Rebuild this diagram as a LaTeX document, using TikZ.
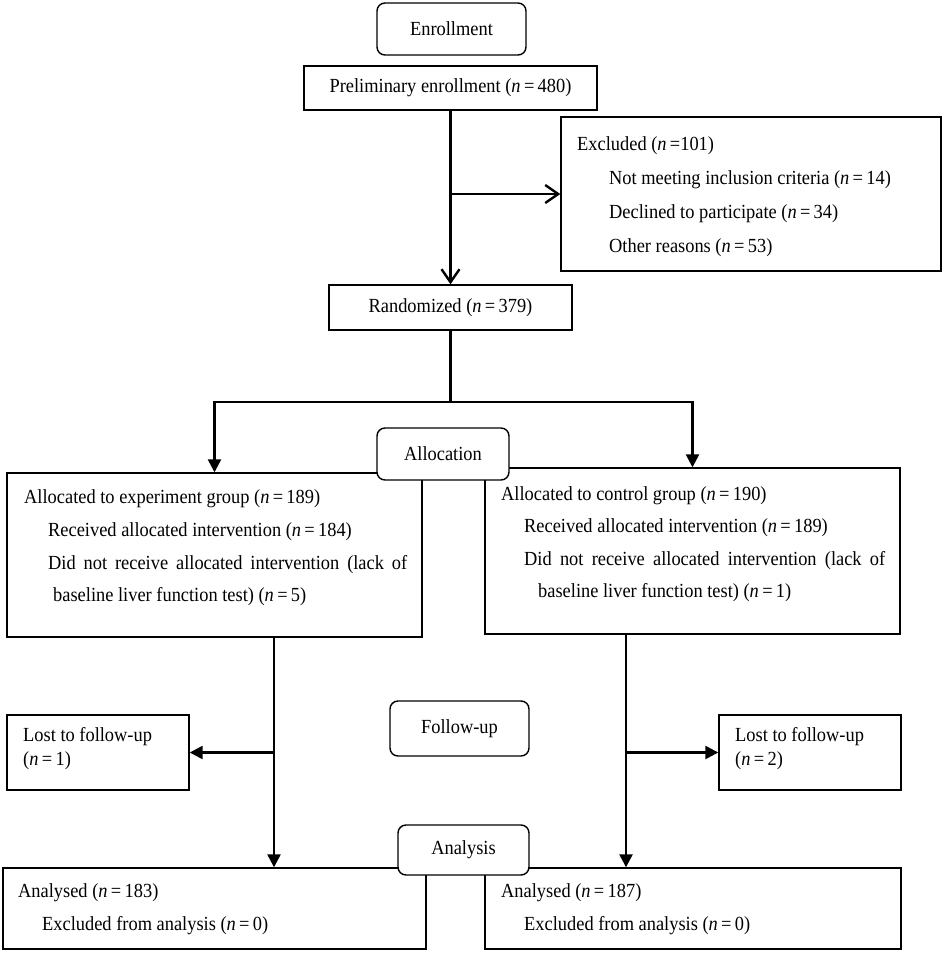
\documentclass[tikz,border=0pt]{standalone}
\usepackage{fontspec}
\setmainfont{Liberation Serif}[FakeStretch=0.92]
\usetikzlibrary{arrows.meta}
\newcommand{\nv}{\textit{n}}
\newcommand{\eq}{\,=\,}
\begin{document}
\begin{tikzpicture}[x=1pt,y=-1pt,
  bx/.style={draw=black, line width=1.4pt, inner sep=0pt, fill=white, font=\fontsize{20}{24}\selectfont},
  lbl/.style={bx, rounded corners=8pt},
  txt/.style={inner sep=0pt, anchor=base west, font=\fontsize{20}{24}\selectfont},
  conn/.style={line width=2.4pt},
  tip/.style={-{Triangle[width=13pt,length=13pt]}},
  vtip/.style={-{Straight Barb[width=18pt,length=13pt]}}]
\useasboundingbox (0,0) rectangle (944,953);
\fill[white] (0,0) rectangle (944,953);

% boxes
\node[lbl, minimum width=149pt, minimum height=52pt] (enroll) at (451.5,29) {Enrollment};
\node[bx, minimum width=293pt, minimum height=44pt] (prelim) at (450.5,88) {Preliminary enrollment (\nv\eq480)};
\node[bx, minimum width=380pt, minimum height=154pt] (excl) at (751,194) {};
\node[bx, minimum width=243pt, minimum height=45pt] (rand) at (450.5,307.5) {Randomized (\nv\eq379)};
\node[bx, minimum width=415pt, minimum height=164pt] (ealloc) at (214.5,555) {};
\node[bx, minimum width=415pt, minimum height=166pt] (calloc) at (692.5,551) {};
\node[lbl, minimum width=132pt, minimum height=52pt] (alloc) at (443,454) {Allocation};
\node[bx, minimum width=182pt, minimum height=75pt] (lostL) at (98,752.5) {};
\node[lbl, minimum width=139pt, minimum height=55pt] (follow) at (459.5,728.5) {Follow-up};
\node[bx, minimum width=182pt, minimum height=75pt] (lostR) at (810,752.5) {};
\node[bx, minimum width=423pt, minimum height=81pt] (anL) at (214.5,908.5) {};
\node[bx, minimum width=416pt, minimum height=81pt] (anR) at (693,908.5) {};
\node[lbl, minimum width=131pt, minimum height=50pt] (analysis) at (463.5,850) {Analysis};

% texts
\node[txt] (ex0) at (577,150) {Excluded (\nv\,=101)};
\node[txt] (ex1) at (609,184) {Not meeting inclusion criteria (\nv\eq14)};
\node[txt] (ex2) at (609,218) {Declined to participate (\nv\eq34)};
\node[txt] (ex3) at (609,252) {Other reasons (\nv\eq53)};

\node[txt] (ea0) at (24,503) {Allocated to experiment group (\nv\eq189)};
\node[txt] (ea1) at (48,536) {Received allocated intervention (\nv\eq184)};
\node[txt] (ea2) at (48,569) {\makebox[359pt][s]{Did not receive allocated intervention (lack of}};
\node[txt] (ea3) at (53,601) {baseline liver function test) (\nv\eq5)};

\node[txt] (ca0) at (501,500) {Allocated to control group (\nv\eq190)};
\node[txt] (ca1) at (524,532) {Received allocated intervention (\nv\eq189)};
\node[txt] (ca2) at (524,565) {\makebox[361pt][s]{Did not receive allocated intervention (lack of}};
\node[txt] (ca3) at (538,597) {baseline liver function test) (\nv\eq1)};

\node[txt] (lL0) at (23,741) {Lost to follow-up};
\node[txt] (lL1) at (23,765) {(\nv\eq1)};
\node[txt] (lR0) at (735,741) {Lost to follow-up};
\node[txt] (lR1) at (735,765) {(\nv\eq2)};

\node[txt] (aL0) at (18,897) {Analysed (\nv\eq183)};
\node[txt] (aL1) at (42,930) {Excluded from analysis (\nv\eq0)};
\node[txt] (aR0) at (501,897) {Analysed (\nv\eq187)};
\node[txt] (aR1) at (524,930) {Excluded from analysis (\nv\eq0)};

% connectors
\coordinate (lx) at (274,0);
\coordinate (rx) at (626,0);
\draw[conn,vtip] (prelim.south) -- (rand.north);
\draw[conn,vtip] (prelim.south |- excl.west) -- (excl.west);
\draw[conn,tip] (rand.south) -- ++(0,71) -| (ealloc.north);
\draw[conn,tip] (rand.south) -- ++(0,71) -| (calloc.north);
\draw[conn,tip] (ealloc.south -| lx) -- (anL.north -| lx);
\draw[conn,tip] (lx |- lostL.east) -- (lostL.east);
\draw[conn,tip] (calloc.south -| rx) -- (anR.north -| rx);
\draw[conn,tip] (rx |- lostR.west) -- (lostR.west);
\end{tikzpicture}
\end{document}
